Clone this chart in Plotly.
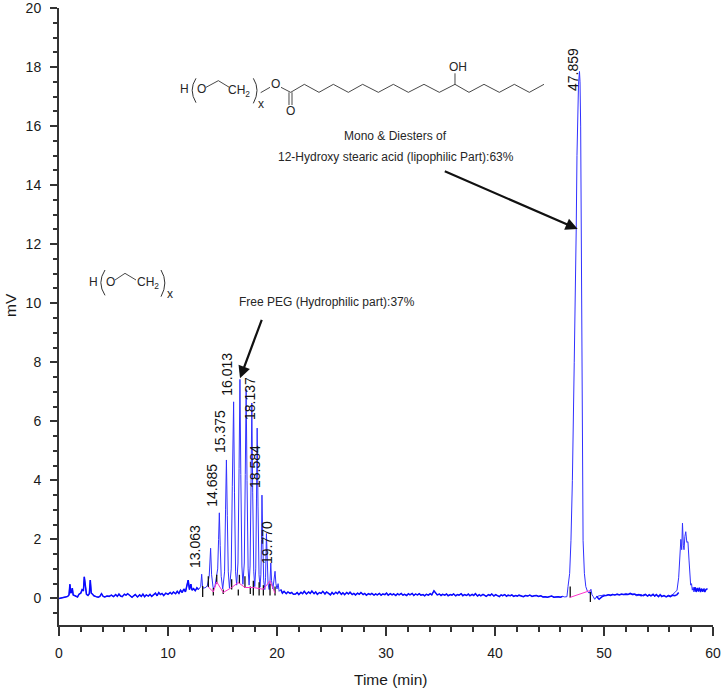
import plotly.graph_objects as go

# ---- chromatogram ----
early_t = [0,0.2,0.4,0.6,0.8,0.92,1.0,1.08,1.16,1.22,1.3,1.42,1.55,1.7,1.85,2.0,2.12,2.24,2.32,2.42,2.52,2.66,2.78,2.87,2.96,3.08,3.2,3.4,3.6,3.75,3.9,4.05,4.2,4.4,4.6,4.8,5.0,5.2,5.35,5.5,5.65,5.8,6.0,6.15,6.3,6.5,6.7,6.85,7.0,7.2,7.4,7.55,7.7,7.85,8.0,8.2,8.35,8.5,8.7,8.85,9.0,9.15,9.3,9.45,9.6,9.8,10.0,10.2,10.35,10.5,10.7,10.85,11.0,11.15,11.3,11.45,11.6,11.72,11.85,11.97,12.1,12.2,12.35,12.5,12.65,12.8]
early_v = [0.0,0.01,0.03,0.05,0.07,0.12,0.48,0.18,0.22,0.35,0.12,0.1,0.08,0.05,0.15,0.18,0.3,0.25,0.73,0.32,0.14,0.1,0.16,0.62,0.18,0.14,0.09,0.06,0.04,0.07,0.16,0.07,0.05,0.08,0.07,0.11,0.06,0.13,0.07,0.15,0.08,0.06,0.14,0.11,0.16,0.1,0.04,0.09,0.13,0.05,0.12,0.07,0.15,0.06,0.12,0.08,0.14,0.07,0.12,0.18,0.09,0.2,0.13,0.17,0.1,0.18,0.14,0.2,0.15,0.22,0.16,0.24,0.17,0.28,0.2,0.32,0.22,0.38,0.62,0.3,0.48,0.28,0.33,0.26,0.36,0.3]

peaks_t = [12.9,13.0,13.09,13.18,13.4,13.6,13.78,13.91,14.0,14.14,14.3,14.56,14.64,14.71,14.79,14.88,15.02,15.19,15.28,15.36,15.44,15.53,15.64,15.8,15.9,16.02,16.1,16.2,16.3,16.42,16.52,16.6,16.68,16.78,16.87,17.0,17.09,17.17,17.25,17.35,17.44,17.53,17.62,17.69,17.77,17.87,17.96,18.05,18.12,18.18,18.26,18.35,18.44,18.52,18.58,18.62,18.7,18.78,18.88,18.95,19.03,19.1,19.18,19.28,19.36,19.43,19.5,19.62,19.72,19.82,19.9,20.0,20.1,20.2]
peaks_v = [0.34,0.4,0.82,0.35,0.36,0.42,0.75,1.7,0.8,0.36,0.4,1.0,2.0,2.9,1.8,0.75,0.32,0.9,3.0,4.69,2.8,0.9,0.34,1.0,3.8,6.66,3.6,0.9,0.45,1.2,4.4,7.42,4.2,1.1,0.48,1.2,4.2,7.08,4.0,1.0,0.45,1.1,3.9,6.62,3.6,0.9,0.4,1.0,3.4,5.77,3.1,0.8,0.38,0.8,2.0,3.5,1.9,0.6,0.3,0.7,2.2,1.2,0.5,0.3,0.6,1.2,0.6,0.32,0.55,0.92,0.5,0.32,0.5,0.24]

mid_t = [20.35,20.5,20.65,20.85,21.0,21.2,21.35,21.5,21.7,21.85,22.0,22.2,22.35,22.5,22.7,22.9,23.05,23.2,23.4,23.55,23.7,23.9,24.05,24.2,24.4,24.55,24.7,24.9,25.05,25.2,25.4,25.55,25.7,25.9,26.05,26.2,26.4,26.55,26.7,26.9,27.05,27.2,27.4,27.55,27.7,27.9,28.05,28.2,28.4,28.55,28.7,28.9,29.05,29.2,29.4,29.55,29.7,29.9,30.05,30.2,30.4,30.55,30.7,30.9,31.05,31.2,31.4,31.55,31.7,31.9,32.05,32.2,32.4,32.55,32.7,32.9,33.05,33.2,33.4,33.55,33.7,33.9,34.05,34.2,34.4,34.55,34.7,34.9,35.05,35.2,35.4,35.55,35.7,35.9,36.05,36.2,36.4,36.55,36.7,36.9,37.05,37.2,37.4,37.55,37.7,37.9,38.05,38.2,38.4,38.55,38.7,38.9,39.05,39.2,39.4,39.55,39.7,39.9,40.05,40.2,40.4,40.55,40.7,40.9,41.05,41.2,41.4,41.55,41.7,41.9,42.05,42.2,42.4,42.6,42.8,43.0,43.2,43.4,43.6,43.8,44.0,44.2,44.4,44.6,44.8,45.0,45.2,45.4,45.6,45.8,46.0,46.2,46.4,46.6]
mid_v = [0.3,0.18,0.24,0.16,0.22,0.17,0.2,0.14,0.15,0.2,0.13,0.21,0.16,0.24,0.15,0.22,0.17,0.25,0.16,0.22,0.14,0.2,0.17,0.24,0.15,0.22,0.18,0.12,0.2,0.14,0.21,0.16,0.23,0.14,0.19,0.13,0.2,0.15,0.21,0.13,0.17,0.12,0.18,0.14,0.2,0.13,0.17,0.11,0.16,0.13,0.17,0.11,0.15,0.12,0.17,0.11,0.15,0.13,0.18,0.11,0.16,0.12,0.15,0.1,0.16,0.12,0.17,0.11,0.14,0.1,0.16,0.12,0.17,0.1,0.15,0.12,0.16,0.11,0.13,0.09,0.14,0.11,0.16,0.12,0.26,0.17,0.12,0.15,0.1,0.14,0.11,0.15,0.09,0.13,0.11,0.15,0.09,0.13,0.11,0.16,0.09,0.13,0.1,0.15,0.09,0.14,0.1,0.16,0.08,0.13,0.09,0.14,0.11,0.07,0.13,0.1,0.15,0.08,0.13,0.1,0.06,0.12,0.09,0.13,0.07,0.11,0.09,0.12,0.07,0.1,0.08,0.11,0.09,0.06,0.1,0.08,0.11,0.07,0.09,0.1,0.07,0.09,0.05,0.06,0.04,0.05,0.08,0.04,0.05,0.06,0.04,0.07]

main_t = [46.7,46.85,46.97,47.1,47.27,47.4,47.45,47.52,47.58,47.66,47.75,47.8,47.86,47.9,47.95,48.0,48.04,48.08,48.2,48.33,48.5,48.65,48.8,48.9,49.0,49.15,49.3,49.55,49.8,50.0,50.2,50.4,50.6,50.8,51.0,51.2,51.4,51.6,51.8,52.0,52.2,52.4,52.6,52.8,53.0,53.2,53.4,53.6,53.8,54.0,54.15,54.3,54.5,54.65,54.8,55.0,55.15,55.3,55.5,55.7,55.9,56.1,56.3,56.5,56.7,56.85]
main_v = [0.05,0.06,0.4,0.85,1.97,4.0,8.0,10.5,12.48,15.0,16.8,17.4,17.85,17.5,16.0,12.48,10.2,8.0,5.37,1.97,0.85,0.4,0.22,0.18,0.31,0.12,0.07,-0.03,0.05,0.09,0.1,0.12,0.1,0.13,0.12,0.14,0.12,0.15,0.13,0.14,0.13,0.17,0.14,0.15,0.12,0.13,0.09,0.11,0.14,0.08,0.12,0.09,0.14,0.08,0.13,0.06,0.13,0.07,0.1,0.05,0.09,0.06,0.11,0.09,0.13,0.2]

late_t = [56.97,57.05,57.13,57.2,57.28,57.34,57.42,57.5,57.6,57.7,57.8,57.88,57.95,58.03,58.1,58.18,58.25,58.35,58.45,58.55,58.65,58.75,58.85,58.95,59.05,59.15,59.25,59.35,59.5]
late_v = [0.28,0.7,1.5,2.0,1.65,2.55,1.8,1.65,2.1,2.26,1.9,1.92,1.3,0.69,0.45,0.5,0.28,0.38,0.22,0.34,0.26,0.36,0.22,0.33,0.24,0.33,0.22,0.3,0.33]

# integration baseline segments and marks
pink_a_t = [13.7,14.16,14.47,15.07,15.84,16.45,17.06,17.83,18.75,19.36,19.82]
pink_a_v = [0.39,0.22,0.56,0.2,0.37,0.54,0.37,0.37,0.31,0.6,0.17]
pink_b_t = [46.85,48.75]
pink_b_v = [0.03,0.27]

mark_t = [13.18,13.7,14.16,14.47,15.07,15.84,16.45,16.55,17.06,17.55,17.83,18.36,18.75,19.36,19.82,46.9,48.75]
mark_lo = [0.05,0.39,0.1,0.5,0.15,0.3,0.1,0.5,0.35,0.15,0.1,0.1,0.1,0.1,0.1,0.03,-0.12]
mark_hi = [0.42,0.75,0.35,0.8,0.3,0.65,0.3,0.8,0.75,0.4,0.6,0.55,0.45,0.5,0.4,0.4,0.22]

peak_labels = ["13.063","14.685","15.375","16.013","18.137","18.584","19.770","47.859"]
label_px = [195,211.7,220,226.7,250,255,267,573]
label_py = [547,485,432,374,399,467,543,70]

x_ticks = [0,10,20,30,40,50,60]
y_ticks = [0,2,4,6,8,10,12,14,16,18,20]

# ---- plot frame in page pixels ----
W,H = 722,690
L,R,T,B = 59,713,8,625
def px(x): return (x-L)/(R-L)
def py(y): return (B-y)/(B-T)

def strip(*pairs):
    ts,vs=[],[]
    for t,v in pairs:
        ts+=t; vs+=v
    return ts,vs
sig_t,sig_v = strip((early_t,early_v),(peaks_t,peaks_v),(mid_t,mid_v),(main_t,main_v),(late_t,late_v))

mx,my=[],[]
for t,a,b in zip(mark_t,mark_lo,mark_hi):
    mx+=[t,t,None]; my+=[a,b,None]

fig = go.Figure()
fig.add_trace(go.Scatter(x=sig_t,y=sig_v,mode="lines",line=dict(color="#3030ff",width=1),name="signal"))
for a,b in [(early_t,early_v),(mid_t,mid_v),(main_t[26:],main_v[26:]),(late_t[16:],late_v[16:])]:
    fig.add_trace(go.Scatter(x=a,y=b,mode="lines",line=dict(color="#0a0aff",width=1.5),hoverinfo="skip"))
fig.add_trace(go.Scatter(x=mx,y=my,mode="lines",line=dict(color="#111111",width=1.3),hoverinfo="skip"))
fig.add_trace(go.Scatter(x=pink_a_t,y=pink_a_v,mode="lines",line=dict(color="#ff33cc",width=1)))
fig.add_trace(go.Scatter(x=pink_b_t,y=pink_b_v,mode="lines",line=dict(color="#ff33cc",width=1)))

ann=[]
def text(s,x,y,size=12,color="#262626",angle=0,family="Liberation Sans"):
    ann.append(dict(text=s,x=px(x),y=py(y),xref="paper",yref="paper",showarrow=False,textangle=angle,
                    font=dict(size=size,color=color,family=family),xanchor="center",yanchor="middle"))
for s,x,y in zip(peak_labels,label_px,label_py):
    text(s,x,y,size=14,angle=-90,color="#111111")
text("Mono &amp; Diesters of",395.7,135.7,size=12)
text("12-Hydroxy stearic acid (lipophilic Part):63%",395.7,157,size=12)
text("Free PEG (Hydrophilic part):37%",326.7,301.7,size=12)
text("Time (min)",390,679,size=15.5,color="#1a1a1a")
text("mV",10,305,size=15.5,color="#1a1a1a",angle=-90)

def arrow(x0,y0,x1,y1):
    ann.append(dict(x=px(x1),y=py(y1),xref="paper",yref="paper",ax=x0-x1,ay=y0-y1,axref="pixel",ayref="pixel",
                    showarrow=True,arrowhead=2,arrowsize=1.1,arrowwidth=2.2,arrowcolor="#111111",text=""))
arrow(262.3,318.3,240,378.3)
arrow(443.3,170.7,577.7,229)

shapes=[]
def poly(pts,w=0.9,color="#333333"):
    d="M "+" L ".join(f"{px(a):.5f},{py(b):.5f}" for a,b in pts)
    shapes.append(dict(type="path",path=d,xref="paper",yref="paper",line=dict(color=color,width=w)))
def curve(x0,y0,cx,cy,x1,y1):
    d=f"M {px(x0):.5f},{py(y0):.5f} Q {px(cx):.5f},{py(cy):.5f} {px(x1):.5f},{py(y1):.5f}"
    shapes.append(dict(type="path",path=d,xref="paper",yref="paper",line=dict(color="#333333",width=1)))

# top structure (from zoom coordinates)
def z5(a,b): return (170+a/3,50+b/3)
chain=[(362,127),(403,103),(447,127),(490,103),(535,127),(578,103),(625,127),(670,103),(715,127),(762,103),(808,127),(855,103),(897,127),(942,103),(988,127),(1033,103),(1078,127),(1122,103)]
poly([z5(*p) for p in chain])
poly([z5(855,103),z5(855,70)])
poly([z5(333,112),z5(362,127)])
poly([z5(357,127),z5(357,165)]); poly([z5(366,127),z5(366,165)])
poly([z5(272,128),z5(300,112)])
poly([z5(108,112),z5(145,92),z5(178,112)])
curve(*z5(78,85),*z5(55,120),*z5(78,158))
curve(*z5(250,85),*z5(272,120),*z5(250,160))
for s,a,b,sz in [("OH",865,50,12),("O",316,103,12),("O",360,182,12),("H",42,118,12),("O",95,118,12),("CH<sub>2</sub>",207,122,12),("x",272,161,12)]:
    x,y=z5(a,b); text(s,x,y,size=sz)

# left structure
def z11(a,b): return (80+a/3,250+b/3)
poly([z11(105,90),z11(135,70),z11(168,90)])
curve(*z11(75,60),*z11(50,98),*z11(75,136))
curve(*z11(243,60),*z11(266,98),*z11(243,140))
for s,a,b in [("H",40,97),("O",92,97),("CH<sub>2</sub>",205,99),("x",270,133)]:
    x,y=z11(a,b); text(s,x,y,size=12)

tickfont=dict(family="Liberation Sans",size=14,color="#1a1a1a")
axcol="#333333"
fig.update_layout(
    width=W,height=H,showlegend=False,plot_bgcolor="white",paper_bgcolor="white",
    margin=dict(l=L,r=W-R,t=T,b=H-B,autoexpand=False),
    annotations=ann,shapes=shapes,
    xaxis=dict(range=[0,60],tickvals=x_ticks,ticks="outside",ticklen=9,tickwidth=1.5,tickcolor=axcol,
               showline=True,linecolor=axcol,linewidth=2,showgrid=False,zeroline=False,tickfont=tickfont,
               minor=dict(dtick=2,tick0=0,ticks="outside",ticklen=5,tickwidth=1.5,tickcolor=axcol,showgrid=False),
               ticklabelstandoff=5,ticklabeloverflow="allow"),
    yaxis=dict(range=[-0.9,20],tickvals=y_ticks,ticks="outside",ticklen=7,tickwidth=1.5,tickcolor=axcol,
               showline=True,linecolor=axcol,linewidth=2,showgrid=False,zeroline=False,tickfont=tickfont,
               minor=dict(dtick=0.5,tick0=0,ticks="outside",ticklen=4,tickwidth=1.5,tickcolor=axcol,showgrid=False),
               ticklabelstandoff=6,ticklabeloverflow="allow"),
)
fig.write_html("out.html",post_script="document.body.style.margin='0';",config=dict(displayModeBar=False))
